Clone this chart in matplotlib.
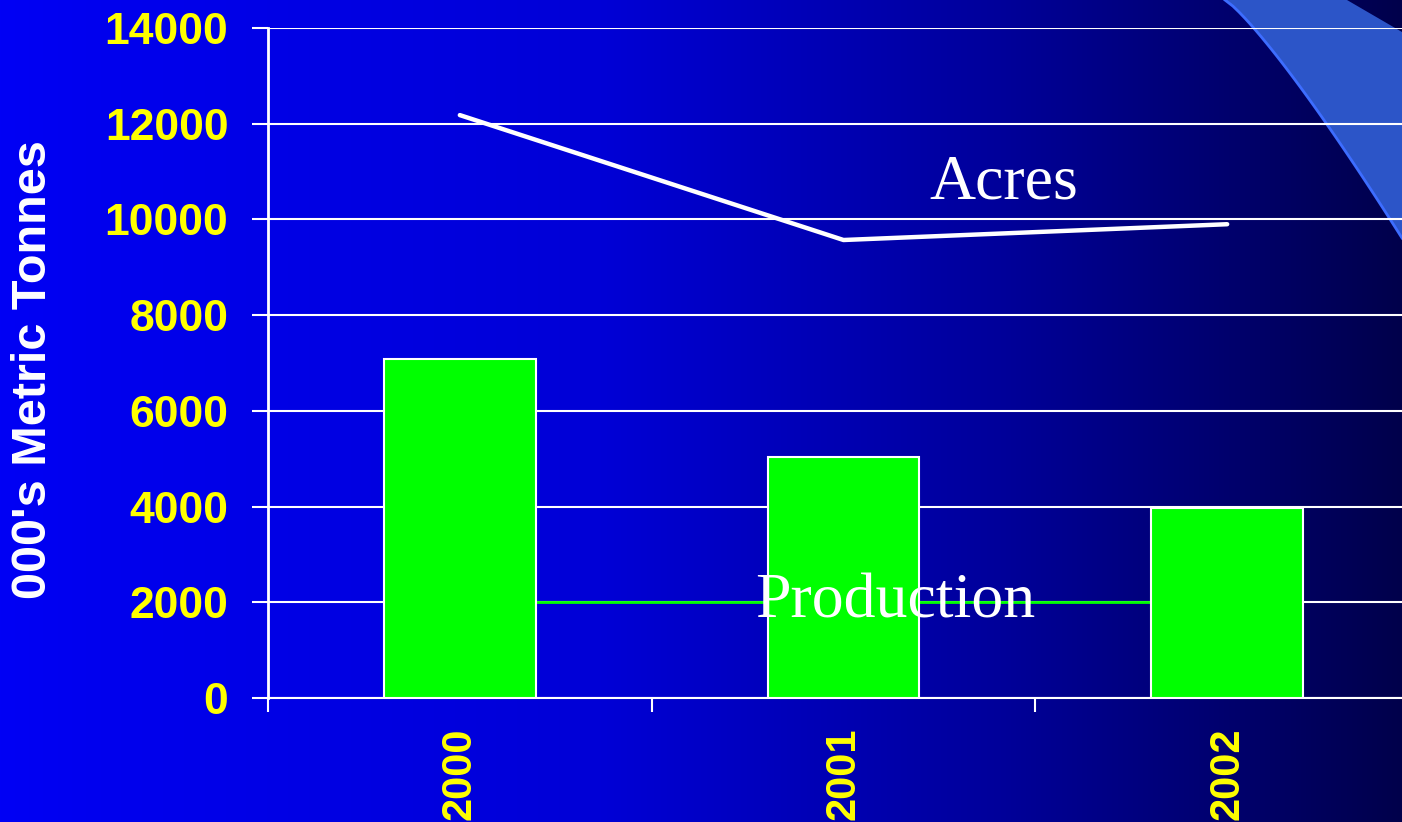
import numpy as np
import matplotlib
matplotlib.use('Agg')
from matplotlib import pyplot as plt
from matplotlib.patches import Polygon

# data
years = ['2000', '2001', '2002']
production = [7080, 5040, 3970]
acres = [12180, 9570, 9900]
yticks = [0, 2000, 4000, 6000, 8000, 10000, 12000, 14000]

W, H = 1402, 822
fig = plt.figure(figsize=(W / 100, H / 100), dpi=100)

# background: blue -> navy gradient (sampled from the slide)
bg = fig.add_axes([0, 0, 1, 1], zorder=0)
px = np.arange(W)
blue = np.interp(px, [0, 100, 600, 1000, 1402], [245, 238, 214, 154, 75])
rgb = np.zeros((1, W, 3))
rgb[0, :, 2] = blue / 255
bg.imshow(rgb, aspect='auto', extent=[0, 1, 0, 1])
bg.set_xlim(0, 1)
bg.set_ylim(0, 1)
bg.axis('off')

# decorative swoosh top right (figure pixel coords, y from top)
t = np.linspace(0, 1, 40)
lx = 1225 + 177 * t ** 0.85
ly = 238 * t
rx = 1347 + 55 * t
ry = 32 * t
left_edge = list(zip(lx, ly))
right_edge = list(zip(rx[::-1], ry[::-1]))
pts = [(x / W, 1 - y / H) for x, y in left_edge + right_edge]
bg.add_patch(Polygon(pts, closed=True, facecolor='#2c55c8', edgecolor='none'))
bg.plot(lx / W, 1 - ly / H, color='#3d6dff', lw=2)

# main chart
ax = fig.add_axes([268 / W, 124 / H, (1419 - 268) / W, (698 - 28) / H], zorder=2)
ax.set_facecolor('none')
x = np.arange(len(years))

ax.set_axisbelow(True)
ax.grid(axis='y', color='white', lw=1.5)
ax.bar(x, production, width=0.396, color='#00ff00', edgecolor='white', lw=1.5, zorder=3)
ax.plot([x[0] + 0.198, x[2] - 0.198], [2000, 2000], color='#00ff00', lw=2, zorder=2.5)
ax.plot(x, acres, color='white', lw=3.2, solid_capstyle='round', zorder=4)

ax.text(1.135, 2000, 'Production', color='white', family='Liberation Serif',
        fontsize=46, ha='center', va='center', zorder=5)
ax.text(1.417, 10760, 'Acres', color='white', family='Liberation Serif',
        fontsize=46, ha='center', va='center', zorder=5)

ax.set_xlim(-0.5, 2.5)
ax.set_ylim(0, 14000)
ax.set_yticks(yticks)
ax.set_yticklabels([str(v) for v in yticks], color='yellow', fontsize=32,
                   fontweight='bold', family='Liberation Sans')
ax.set_xticks(x)
ax.set_xticklabels(years, rotation=90, color='yellow', fontsize=30,
                   fontweight='bold', family='Liberation Sans', va='top')
ax.set_xticks([-0.5, 0.5, 1.5], minor=True)
ax.tick_params(axis='x', which='major', length=0, pad=21)
ax.tick_params(axis='x', which='minor', length=10, width=1.5, color='white')
ax.tick_params(axis='y', length=11.5, width=1.5, color='white', pad=17)

for s in ['top', 'right']:
    ax.spines[s].set_visible(False)
ax.spines['left'].set_color('white')
ax.spines['left'].set_linewidth(2)
ax.spines['bottom'].set_color('white')
ax.spines['bottom'].set_linewidth(1.5)

fig.text(34 / W, 1 - 370 / H, "000's Metric Tonnes", rotation=90, color='white',
         fontsize=35, fontweight='bold', family='Liberation Sans',
         ha='center', va='center', zorder=3)

plt.savefig('out.png', dpi=100)
